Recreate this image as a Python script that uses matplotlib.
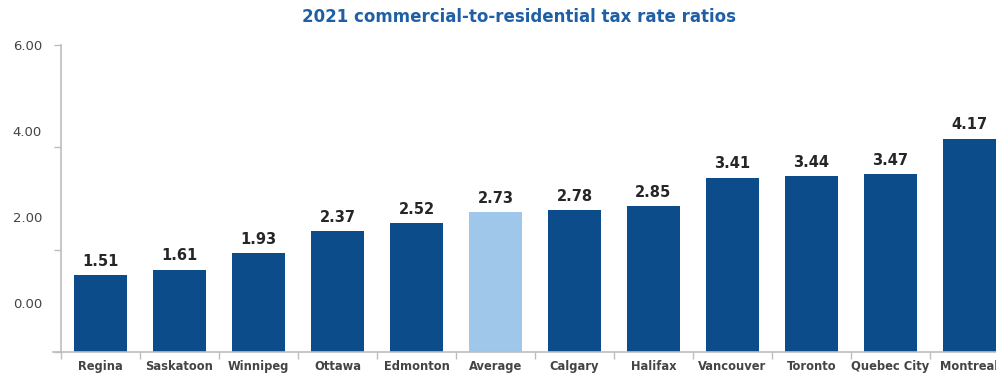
import matplotlib.pyplot as plt
import numpy as np

cities = ['Regina', 'Saskatoon', 'Winnipeg', 'Ottawa', 'Edmonton', 'Average',
          'Calgary', 'Halifax', 'Vancouver', 'Toronto', 'Quebec City', 'Montreal']
ratios = [1.51, 1.61, 1.93, 2.37, 2.52, 2.73, 2.78, 2.85, 3.41, 3.44, 3.47, 4.17]
ytick_vals = [0, 2, 4, 6]

dark = '#0d4c8b'
light = '#9fc7ea'
grid_grey = '#bdbdbd'
txt_grey = '#444444'

plt.rcParams['font.family'] = ['DejaVu Sans']

W, H = 996, 373
fig = plt.figure(figsize=(W / 100, H / 100), dpi=100, facecolor='w')

# main axes: bars, spine and tick marks (runs off the right edge)
ax = fig.add_axes([53 / W, 21 / H, 956 / W, 307 / H])
x = np.arange(len(cities))
colors = [light if c == 'Average' else dark for c in cities]
ax.bar(x, ratios, width=0.67, color=colors, zorder=2)

for xi, v in zip(x, ratios):
    ax.text(xi, v + 0.12, f'{v:.2f}', ha='center', va='bottom',
            fontsize=10.5, fontweight='bold', color='#262626')

ax.set_xlim(-0.6, len(cities) - 0.5)
ax.set_ylim(0, 6)
for s in ('top', 'right'):
    ax.spines[s].set_visible(False)
ax.spines['left'].set_position(('data', -0.5))
ax.spines['left'].set_color(grid_grey)
ax.spines['bottom'].set_color(grid_grey)
ax.spines['left'].set_linewidth(1.2)
ax.spines['bottom'].set_linewidth(1.2)

ax.set_yticks(ytick_vals)
ax.set_yticklabels([])
ax.tick_params(axis='y', length=5, color=grid_grey, width=1)

ax.set_xticks(x)
ax.set_xticklabels(cities, fontsize=8.3, fontweight='bold', color=txt_grey)
ax.set_xticks(np.arange(len(cities)) - 0.5, minor=True)
ax.tick_params(axis='x', which='major', length=0, pad=6)
ax.tick_params(axis='x', which='minor', length=5, color=grid_grey, width=1)

# y labels sit on their own scale
lab = fig.add_axes(ax.get_position(), frameon=False)
lab.set_xticks([])
lab.set_ylim(-1.15, 5.97)
lab.set_yticks(ytick_vals)
lab.set_yticklabels([f'{v:.2f}' for v in ytick_vals], fontsize=9.5, color=txt_grey)
lab.tick_params(axis='y', length=0, pad=8)

fig.text(0.521, 0.955, '2021 commercial-to-residential tax rate ratios',
         ha='center', va='center', fontsize=12, fontweight='bold',
         color='#1f5fa6')

fig.savefig('out.png', dpi=100)
